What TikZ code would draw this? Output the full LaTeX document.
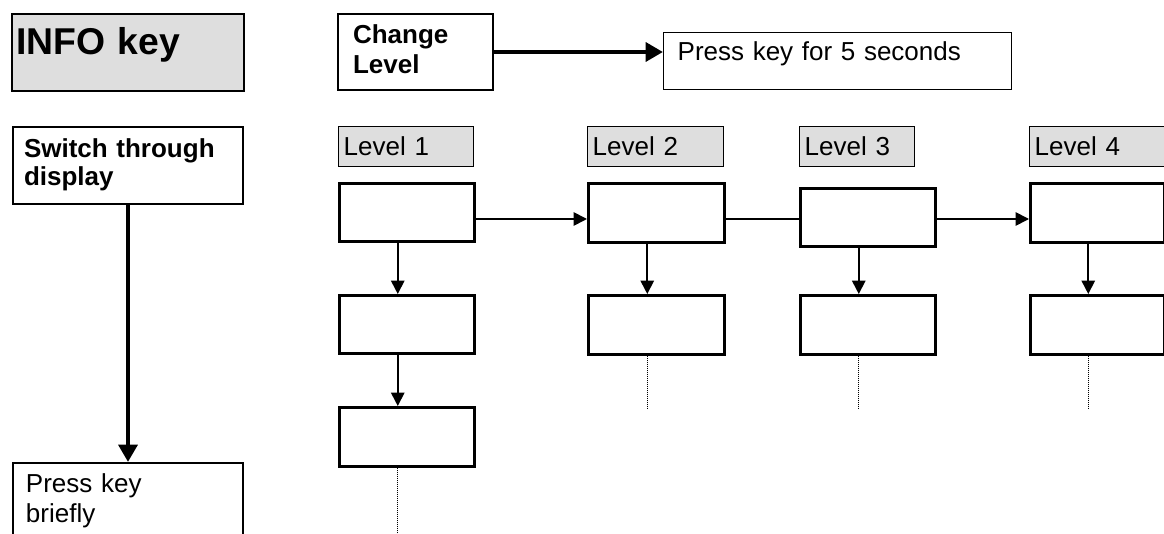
\documentclass[tikz,border=0pt]{standalone}
\usepackage{fontspec}
\setmainfont{Liberation Sans}
\usetikzlibrary{arrows.meta}
\definecolor{boxgray}{RGB}{222,222,222}
\tikzset{
	frame/.style={draw,line width=1.5pt,inner ysep=0pt,anchor=north west,align=left},
	emptybox/.style={draw,line width=1.9pt,inner sep=0pt,anchor=north west,minimum width=101.25pt},
	lvl/.style={frame,fill=boxgray,line width=1.1pt,inner xsep=3.75pt,text height=21.75pt,text depth=8.25pt,font=\fontsize{19.5}{22.5}\selectfont},
	link/.style={line width=1.3pt,-{Triangle[length=10pt,width=10pt]}},
	bigarrow/.style={line width=3.2pt,-{Triangle[length=13pt,width=14pt]}},
	dotline/.style={line width=0.6pt,dash pattern=on 0.75pt off 0.75pt},
}
\begin{document}
\begin{tikzpicture}[x=0.75pt,y=-0.75pt]
		\useasboundingbox (0,0) rectangle (1164,534);
		\clip (0,0) rectangle (1164,534);
		% key boxes
		\node[frame,fill=boxgray,line width=1.7pt,inner xsep=3pt,text width=168pt,text height=30pt,text depth=27.75pt,font=\fontsize{28}{32}\bfseries\selectfont] (info) at (11,13) {INFO key};
		\node[frame,inner xsep=11.25pt,text width=93.75pt,text height=22.5pt,text depth=34.5pt,font=\fontsize{19.5}{22.5}\bfseries\selectfont] (chg) at (337,13) {Change\\Level};
		\node[frame,line width=1pt,inner xsep=10.5pt,text width=240pt,text height=21pt,text depth=21.75pt,font=\fontsize{19.5}{22.5}\selectfont] (press) at (663,32) {Press key for 5 seconds};
		\node[frame,inner xsep=8.25pt,text width=156pt,text height=23.25pt,text depth=34.5pt,font=\fontsize{19.5}{21}\bfseries\selectfont] (switch) at (12,126) {Switch through\\display};
		\node[frame,inner xsep=9.75pt,text width=153pt,text height=22.5pt,text depth=60pt,font=\fontsize{19.5}{22.5}\selectfont] (brief) at (12,462) {Press key\\briefly};
		\draw[bigarrow] (chg.east) -- (chg.east -| press.west);
		\draw[bigarrow] (switch.south) -- (brief.north);
		% levels
		\foreach \n/\x/\w in {1/338/93.75, 2/587/94.5, 3/799/78.75, 4/1029/98.25}
			\node[lvl,text width=\w pt] (lv\n) at (\x,126) {Level \n};
		\foreach \nm/\x/\y/\w/\h in {l1a/338/182/101.25/43.5, l1b/338/294/101.25/43.5, l1c/338/406/101.25/44.25,
			l2a/587/182/102/44.25, l2b/587/294/102/44.25, l3a/799/187/101.25/43.5, l3b/799/294/101.25/44.25,
			l4a/1029/182/100.5/44.25, l4b/1029/294/100.5/44.25}
			\node[emptybox,minimum width=\w pt,minimum height=\h pt] (\nm) at (\x,\y) {};
		\coordinate (row) at (0,219);
		\draw[link] (l1a.east |- row) -- (l2a.west |- row);
		\draw[line width=1.3pt] (l2a.east |- row) -- (l3a.west |- row);
		\draw[link] (l3a.east |- row) -- (l4a.west |- row);
		\draw[link] ([xshift=-6.75pt]l1a.south) -- ([xshift=-6.75pt]l1b.north);
		\draw[link] ([xshift=-6.75pt]l1b.south) -- ([xshift=-6.75pt]l1c.north);
		\foreach \a/\b in {l2a/l2b,l3a/l3b,l4a/l4b}
			\draw[link] ([xshift=-6.75pt]\a.south) -- ([xshift=-6.75pt]\b.north);
		\draw[dotline] ([xshift=-6.75pt]l1c.south) -- ++(0,75);
		\foreach \b in {l2b,l3b,l4b}
			\draw[dotline] ([xshift=-6.75pt]\b.south) -- ++(0,54);
\end{tikzpicture}
\end{document}
